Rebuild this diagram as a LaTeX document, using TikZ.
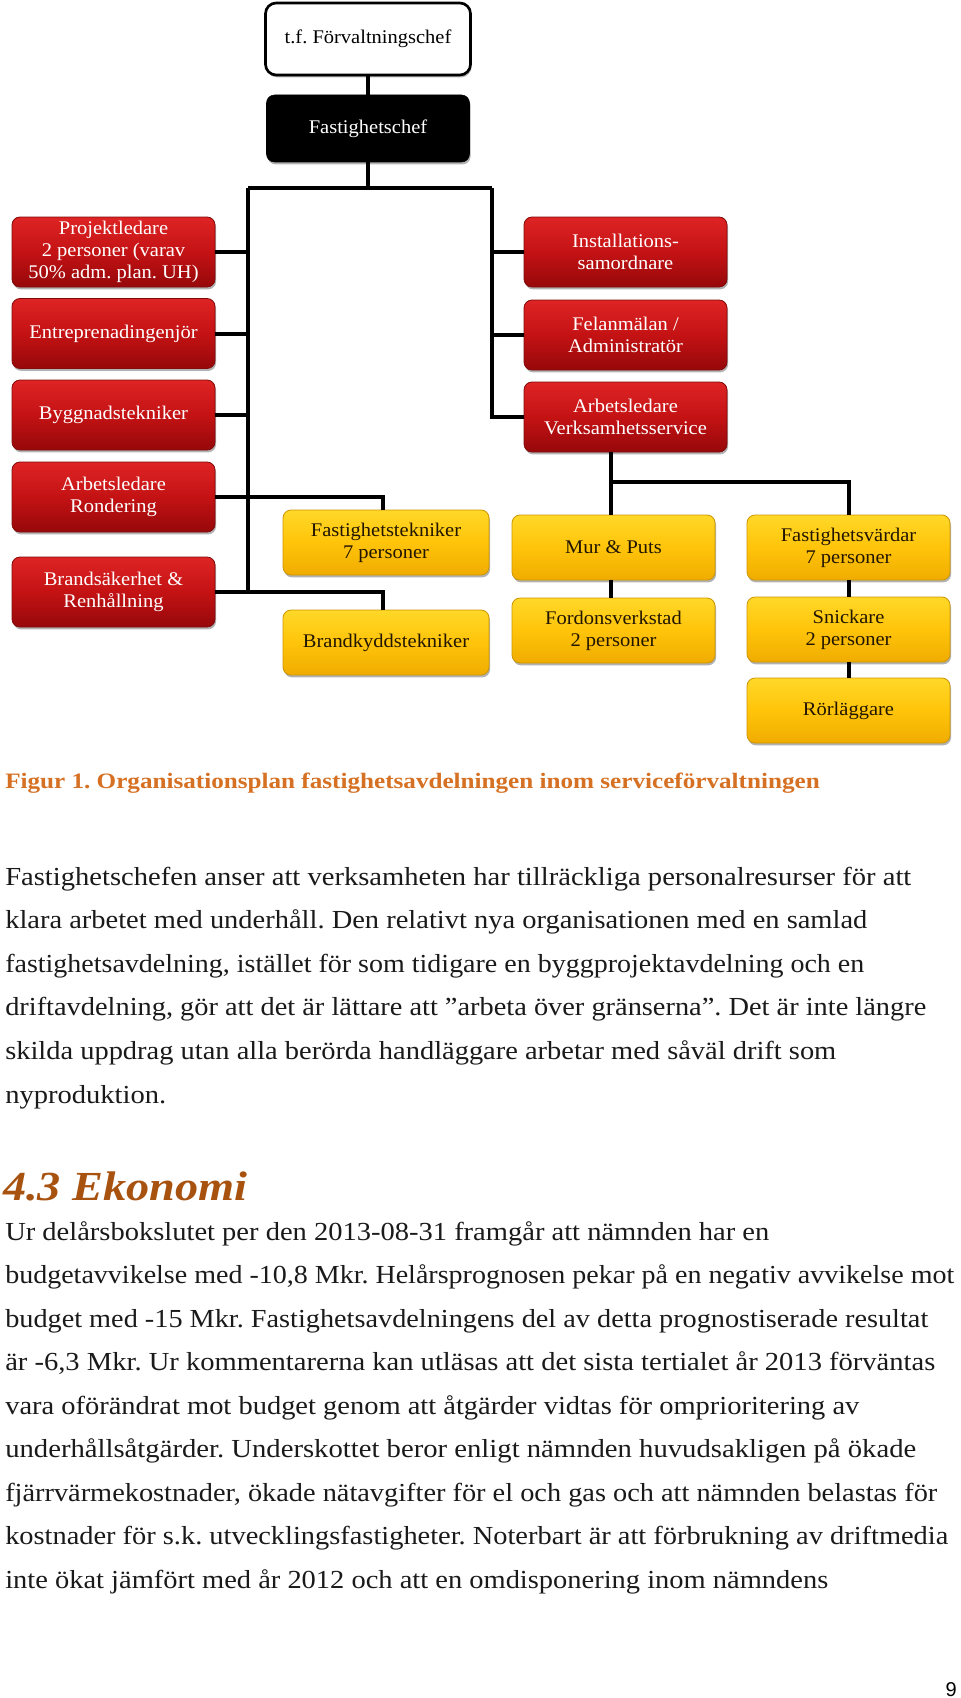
\documentclass[tikz,border=0pt]{standalone}
\usepackage{fontspec}
\setmainfont{Liberation Serif}[FakeStretch=1.06]
\newfontfamily\bodyfont{Liberation Serif}[FakeStretch=1.093]
\newfontfamily\capfont{Liberation Serif}[FakeStretch=1.143]
\newfontfamily\headfont{Liberation Serif}[FakeStretch=1.12]
\newfontfamily\numfont{Liberation Sans}
\usetikzlibrary{shadows,calc}
\newcommand{\fitln}[2]{\resizebox{#1pt}{\height}{#2}}
\definecolor{redtop}{RGB}{222,36,36}
\definecolor{redmid}{RGB}{196,18,20}
\definecolor{redbot}{RGB}{150,8,10}
\definecolor{redborder}{RGB}{130,10,10}
\definecolor{yeltop}{RGB}{255,216,40}
\definecolor{yelmid}{RGB}{255,196,10}
\definecolor{yelbot}{RGB}{240,172,0}
\definecolor{yelborder}{RGB}{205,150,0}
\definecolor{capcol}{RGB}{214,112,34}
\definecolor{headcol}{RGB}{168,82,16}
\definecolor{textcol}{RGB}{26,26,26}
\definecolor{ytext}{RGB}{35,22,0}
\tikzset{
  box/.style={rounded corners=6pt, align=center, inner sep=0pt,
    font=\fontsize{14.5}{16.5}\selectfont,
    drop shadow={shadow xshift=0.8pt, shadow yshift=-1.8pt, opacity=0.3, fill=black}},
  redbox/.style={box, draw=redborder, line width=0.6pt,
    top color=redtop, bottom color=redbot, middle color=redmid, text=white,
    minimum width=152.25pt, minimum height=52.5pt},
  yelbox/.style={box, draw=yelborder, line width=0.6pt,
    top color=yeltop, bottom color=yelbot, middle color=yelmid, text=ytext,
    minimum width=152.25pt, minimum height=48.75pt},
  conn/.style={draw=black, line width=3pt},
  body/.style={anchor=base west, inner sep=0pt, text=textcol,
    font=\bodyfont\fontsize{19.5}{19.5}\selectfont},
}
\begin{document}
\frenchspacing
\begin{tikzpicture}[x=0.75pt,y=-0.75pt]
\useasboundingbox[fill=white] (0,0) rectangle (960,1698);
% top boxes
\node[box, draw=black, line width=2pt, fill=white, text=black,
  minimum width=153.75pt, minimum height=54pt, rounded corners=8pt] (tf) at (368,39) {t.f. Förvaltningschef};
\node[box, draw=black, fill=black, text=white,
  minimum width=152.25pt, minimum height=50.25pt] (fc) at (368,128.5) {Fastighetschef};
% left red column
\node[redbox] (P1) at (113.5,252) {Projektledare\\2 personer (varav\\50\% adm. plan. UH)};
\node[redbox] (P2) at (113.5,333.5) {Entreprenadingenjör};
\node[redbox] (P3) at (113.5,415) {Byggnadstekniker};
\node[redbox] (P4) at (113.5,497) {Arbetsledare\\Rondering};
\node[redbox] (P5) at (113.5,592) {Brandsäkerhet \&\\Renhållning};
% middle yellow
\node[yelbox, minimum width=154.5pt] (Y1) at (386,542.5) {Fastighetstekniker\\7 personer};
\node[yelbox, minimum width=154.5pt] (Y2) at (386,642.5) {Brandkyddstekniker};
% right red column
\node[redbox] (R1) at (625.5,252) {Installations-\\samordnare};
\node[redbox] (R2) at (625.5,335) {Felanmälan /\\Administratör};
\node[redbox] (R3) at (625.5,417) {Arbetsledare\\Verksamhetsservice};
% right yellow
\node[yelbox] (Y3) at (613.5,547.5) {Mur \& Puts};
\node[yelbox] (Y4) at (613.5,630.5) {Fordonsverkstad\\2 personer};
\node[yelbox] (Y5) at (848.5,547.5) {Fastighetsvärdar\\7 personer};
\node[yelbox] (Y6) at (848.5,629.5) {Snickare\\2 personer};
\node[yelbox] (Y7) at (848.5,710.5) {Rörläggare};
% connectors
\coordinate (jL) at (248,188);
\coordinate (jR) at (492,188);
\coordinate (jV) at (611,482);
\draw[conn] (tf.south) -- (tf.south |- fc.north);
\draw[conn] (fc.south) -- (fc.south |- jL);
\draw[conn] (jL) -- (jR);
\draw[conn] (jL) -- (jL |- P5.east);
\draw[conn] (jR) -- (jR |- R3.west) -- (R3.west);
\draw[conn] (P1.east) -- (P1.east -| jL);
\draw[conn] (P2.east) -- (P2.east -| jL);
\draw[conn] (P3.east) -- (P3.east -| jL);
\draw[conn] (P4.east) -- ($(P4.east -| Y1.north)+(-3,0)$) -- ($(Y1.north)+(-3,0)$);
\draw[conn] (P5.east) -- ($(P5.east -| Y2.north)+(-3,0)$) -- ($(Y2.north)+(-3,0)$);
\draw[conn] (R1.west) -- (R1.west -| jR);
\draw[conn] (R2.west) -- (R2.west -| jR);
\draw[conn] (jV |- R3.south) -- (jV |- Y3.north);
\draw[conn] (jV) -- (jV -| Y5.north) -- (Y5.north);
\draw[conn] (jV |- Y3.south) -- (jV |- Y4.north);
\draw[conn] (Y5.south) -- (Y6.north);
\draw[conn] (Y6.south) -- (Y7.north);
% caption
\node[anchor=base west, inner sep=0pt, text=capcol, font=\capfont\bfseries\fontsize{16.5}{16.5}\selectfont] (cap) at (5,788)
  {Figur 1. Organisationsplan fastighetsavdelningen inom serviceförvaltningen};
% paragraph 1
\node[body] (a1) at (5,885) {\fitln{679.5}{Fastighetschefen anser att verksamheten har tillräckliga personalresurser för att}};
\node[body] (a2) at (5,928.6) {\fitln{646.5}{klara arbetet med underhåll. Den relativt nya organisationen med en samlad}};
\node[body] (a3) at (5,972.2) {\fitln{644.25}{fastighetsavdelning, istället för som tidigare en byggprojektavdelning och en}};
\node[body] (a4) at (5,1015.8) {\fitln{690.75}{driftavdelning, gör att det är lättare att ”arbeta över gränserna”. Det är inte längre}};
\node[body] (a5) at (5,1059.4) {\fitln{623.25}{skilda uppdrag utan alla berörda handläggare arbetar med såväl drift som}};
\node[body] (a6) at (5,1103) {\fitln{120.75}{nyproduktion.}};
% heading
\node[anchor=base west, inner sep=0pt, text=headcol, font=\headfont\bfseries\itshape\fontsize{31}{31}\selectfont] (h) at (3,1200) {4.3 Ekonomi};
% paragraph 2
\node[body] (b1) at (5,1240) {\fitln{573}{Ur delårsbokslutet per den 2013-08-31 framgår att nämnden har en}};
\node[body] (b2) at (5,1283.5) {\fitln{711.75}{budgetavvikelse med -10,8 Mkr. Helårsprognosen pekar på en negativ avvikelse mot}};
\node[body] (b3) at (5,1327) {\fitln{692.25}{budget med -15 Mkr. Fastighetsavdelningens del av detta prognostiserade resultat}};
\node[body] (b4) at (5,1370.5) {\fitln{697.5}{är -6,3 Mkr. Ur kommentarerna kan utläsas att det sista tertialet år 2013 förväntas}};
\node[body] (b5) at (5,1414) {\fitln{640.5}{vara oförändrat mot budget genom att åtgärder vidtas för omprioritering av}};
\node[body] (b6) at (5,1457.5) {\fitln{683.25}{underhållsåtgärder. Underskottet beror enligt nämnden huvudsakligen på ökade}};
\node[body] (b7) at (5,1501) {\fitln{699}{fjärrvärmekostnader, ökade nätavgifter för el och gas och att nämnden belastas för}};
\node[body] (b8) at (5,1544.5) {\fitln{707.25}{kostnader för s.k. utvecklingsfastigheter. Noterbart är att förbrukning av driftmedia}};
\node[body] (b9) at (5,1588) {\fitln{617.25}{inte ökat jämfört med år 2012 och att en omdisponering inom nämndens}};
% page number
\node[anchor=base east, inner sep=0pt, font=\numfont\fontsize{15}{15}\selectfont] (pg) at (957,1696) {9};
\end{tikzpicture}
\end{document}
